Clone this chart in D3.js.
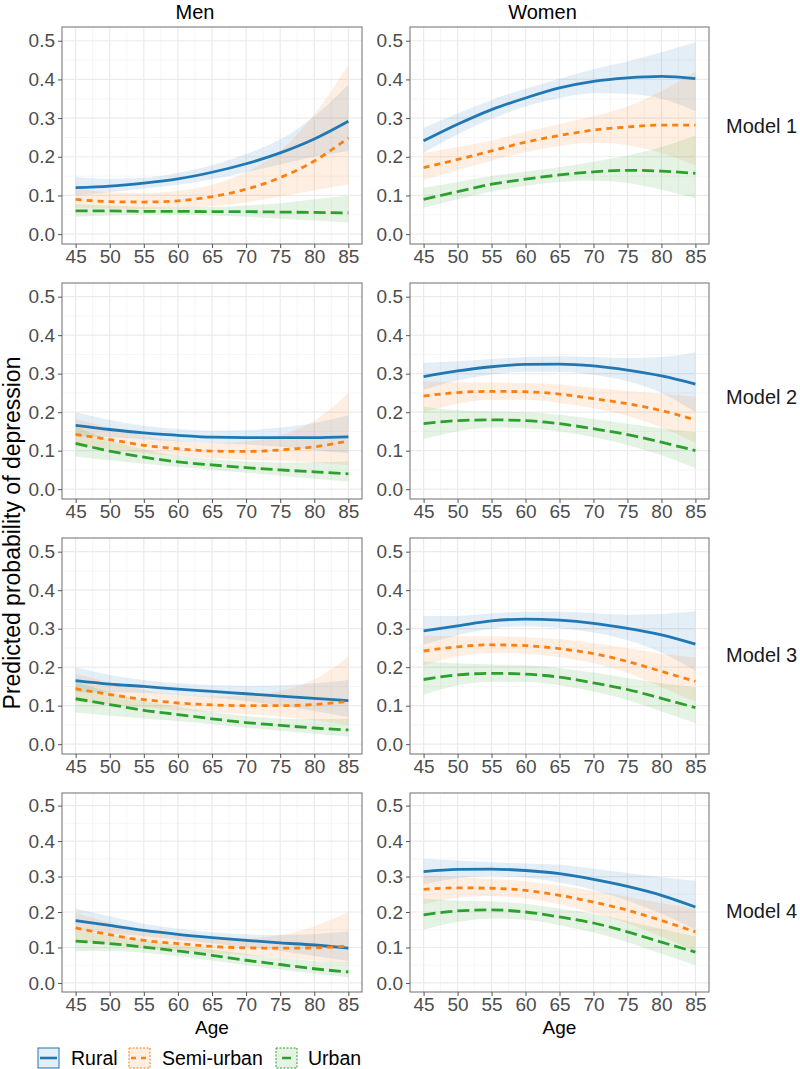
<!DOCTYPE html>
<html>
<head>
<meta charset="utf-8">
<script src="https://cdn.jsdelivr.net/npm/d3@7/dist/d3.min.js"></script>
<style>
  html, body { margin: 0; padding: 0; background: #fff; }
  text { font-family: "Liberation Sans", Arial, sans-serif; }
</style>
</head>
<body>
<svg id="chart" width="800" height="1069"></svg>
<script>
// ---------------- DATA ----------------
const ages = [45, 50, 55, 60, 65, 70, 75, 80, 85];
const sexes = ["Men", "Women"];
const models = ["Model 1", "Model 2", "Model 3", "Model 4"];
const areas = ["Rural", "Semi-urban", "Urban"];
const xTicks = [45, 50, 55, 60, 65, 70, 75, 80, 85];
const yTicks = [0.0, 0.1, 0.2, 0.3, 0.4, 0.5];
const yTickLabels = ["0.0", "0.1", "0.2", "0.3", "0.4", "0.5"];

// Each array: [Rural, Semi-urban, Urban], values at ages 45..85
const fitMen1 = [
  [0.120,0.124,0.132,0.143,0.160,0.182,0.210,0.246,0.292],
  [0.090,0.084,0.083,0.086,0.097,0.116,0.146,0.189,0.249],
  [0.060,0.060,0.059,0.059,0.058,0.058,0.057,0.056,0.055]];
const loMen1 = [
  [0.100,0.108,0.118,0.128,0.142,0.160,0.180,0.200,0.215],
  [0.068,0.066,0.065,0.066,0.072,0.082,0.097,0.113,0.129],
  [0.045,0.048,0.050,0.050,0.048,0.045,0.040,0.035,0.030]];
const hiMen1 = [
  [0.148,0.143,0.146,0.158,0.178,0.207,0.245,0.305,0.387],
  [0.118,0.108,0.106,0.112,0.128,0.160,0.215,0.310,0.438],
  [0.078,0.074,0.070,0.069,0.070,0.074,0.080,0.090,0.100]];

const fitWomen1 = [
  [0.241,0.284,0.322,0.352,0.378,0.395,0.404,0.408,0.402],
  [0.172,0.193,0.215,0.238,0.255,0.269,0.277,0.282,0.282],
  [0.090,0.110,0.129,0.142,0.153,0.161,0.165,0.163,0.157]];
const loWomen1 = [
  [0.210,0.258,0.298,0.330,0.352,0.364,0.363,0.350,0.318],
  [0.140,0.165,0.190,0.212,0.228,0.236,0.230,0.210,0.178],
  [0.068,0.090,0.110,0.125,0.135,0.138,0.132,0.115,0.093]];
const hiWomen1 = [
  [0.275,0.312,0.347,0.376,0.402,0.426,0.446,0.470,0.496],
  [0.210,0.225,0.242,0.265,0.285,0.305,0.330,0.370,0.420],
  [0.120,0.135,0.150,0.162,0.173,0.187,0.203,0.225,0.255]];

const fitMen2 = [
  [0.166,0.155,0.146,0.140,0.135,0.134,0.134,0.134,0.136],
  [0.142,0.129,0.114,0.105,0.099,0.098,0.102,0.110,0.125],
  [0.119,0.099,0.083,0.071,0.063,0.056,0.050,0.045,0.040]];
const loMen2 = [
  [0.138,0.135,0.130,0.124,0.120,0.116,0.110,0.102,0.093],
  [0.110,0.104,0.094,0.086,0.080,0.076,0.074,0.069,0.062],
  [0.085,0.075,0.066,0.058,0.050,0.043,0.035,0.027,0.020]];
const hiMen2 = [
  [0.200,0.180,0.165,0.156,0.152,0.153,0.160,0.172,0.192],
  [0.182,0.160,0.138,0.126,0.120,0.124,0.140,0.178,0.250],
  [0.163,0.128,0.104,0.087,0.078,0.072,0.069,0.070,0.072]];

const fitWomen2 = [
  [0.292,0.307,0.318,0.324,0.325,0.320,0.309,0.294,0.273],
  [0.242,0.251,0.254,0.253,0.247,0.235,0.222,0.204,0.180],
  [0.170,0.178,0.180,0.178,0.170,0.157,0.142,0.122,0.100]];
const loWomen2 = [
  [0.258,0.282,0.298,0.305,0.305,0.297,0.280,0.250,0.200],
  [0.200,0.222,0.232,0.232,0.224,0.210,0.190,0.160,0.120],
  [0.130,0.150,0.160,0.158,0.150,0.135,0.115,0.088,0.055]];
const hiWomen2 = [
  [0.328,0.332,0.338,0.343,0.345,0.343,0.340,0.343,0.355],
  [0.280,0.278,0.277,0.276,0.272,0.263,0.255,0.248,0.240],
  [0.215,0.205,0.202,0.200,0.193,0.182,0.170,0.158,0.148]];

const fitMen3 = [
  [0.165,0.156,0.150,0.143,0.137,0.131,0.125,0.119,0.113],
  [0.144,0.129,0.116,0.107,0.102,0.100,0.100,0.103,0.111],
  [0.118,0.103,0.088,0.077,0.066,0.056,0.049,0.042,0.037]];
const loMen3 = [
  [0.135,0.135,0.133,0.128,0.121,0.112,0.100,0.086,0.070],
  [0.110,0.103,0.095,0.088,0.083,0.078,0.072,0.062,0.050],
  [0.082,0.074,0.067,0.060,0.052,0.043,0.035,0.027,0.020]];
const hiMen3 = [
  [0.200,0.180,0.167,0.158,0.154,0.152,0.153,0.158,0.167],
  [0.183,0.160,0.141,0.129,0.124,0.126,0.138,0.168,0.228],
  [0.163,0.135,0.113,0.097,0.083,0.073,0.067,0.065,0.066]];

const fitWomen3 = [
  [0.294,0.307,0.320,0.325,0.322,0.314,0.301,0.284,0.260],
  [0.242,0.253,0.258,0.256,0.248,0.235,0.215,0.189,0.163],
  [0.168,0.180,0.184,0.182,0.174,0.159,0.142,0.119,0.095]];
const loWomen3 = [
  [0.258,0.283,0.300,0.306,0.302,0.290,0.270,0.238,0.190],
  [0.205,0.228,0.237,0.235,0.226,0.210,0.185,0.148,0.110],
  [0.128,0.153,0.162,0.162,0.153,0.137,0.115,0.085,0.055]];
const hiWomen3 = [
  [0.333,0.333,0.340,0.344,0.344,0.340,0.336,0.338,0.345],
  [0.282,0.280,0.280,0.278,0.273,0.263,0.250,0.235,0.225],
  [0.215,0.210,0.207,0.205,0.198,0.186,0.172,0.158,0.148]];

const fitMen4 = [
  [0.176,0.162,0.148,0.137,0.128,0.120,0.113,0.107,0.098],
  [0.155,0.136,0.120,0.111,0.103,0.099,0.098,0.099,0.104],
  [0.118,0.111,0.101,0.090,0.078,0.064,0.052,0.040,0.031]];
const loMen4 = [
  [0.148,0.140,0.132,0.122,0.112,0.101,0.090,0.076,0.062],
  [0.120,0.108,0.098,0.091,0.084,0.078,0.071,0.063,0.055],
  [0.090,0.090,0.085,0.075,0.063,0.050,0.038,0.026,0.016]];
const hiMen4 = [
  [0.210,0.188,0.167,0.153,0.143,0.137,0.135,0.138,0.145],
  [0.198,0.170,0.147,0.135,0.126,0.125,0.135,0.160,0.200],
  [0.148,0.135,0.120,0.107,0.094,0.082,0.070,0.062,0.058]];

const fitWomen4 = [
  [0.314,0.320,0.321,0.317,0.308,0.292,0.272,0.247,0.214],
  [0.264,0.268,0.267,0.261,0.247,0.228,0.205,0.176,0.144],
  [0.192,0.203,0.206,0.200,0.186,0.169,0.144,0.115,0.087]];
const loWomen4 = [
  [0.278,0.295,0.302,0.297,0.283,0.262,0.232,0.195,0.150],
  [0.222,0.240,0.245,0.238,0.222,0.198,0.168,0.130,0.090],
  [0.150,0.172,0.182,0.178,0.163,0.142,0.115,0.082,0.050]];
const hiWomen4 = [
  [0.350,0.345,0.340,0.337,0.333,0.322,0.310,0.298,0.288],
  [0.303,0.298,0.293,0.287,0.275,0.260,0.243,0.225,0.210],
  [0.238,0.232,0.230,0.223,0.210,0.195,0.175,0.152,0.132]];

// ---------------- STYLE / LAYOUT ----------------
const colors = ["#1F77B4", "#FF7F0E", "#2CA02C"];
const dashes = [null, "6,5", "12,5"];
const colX = [[62, 362], [410, 709]];
const rowY = [[27, 244], [283, 499], [538, 754], [793, 992]];
const stripBaselines = [133, 404, 662, 918];

const panelData = [
  [[fitMen1, loMen1, hiMen1], [fitWomen1, loWomen1, hiWomen1]],
  [[fitMen2, loMen2, hiMen2], [fitWomen2, loWomen2, hiWomen2]],
  [[fitMen3, loMen3, hiMen3], [fitWomen3, loWomen3, hiWomen3]],
  [[fitMen4, loMen4, hiMen4], [fitWomen4, loWomen4, hiWomen4]]
];

const svg = d3.select("#chart");
const xDomain = [43, 87];
const yDomain = [-0.0255, 0.5355];
const xMinor = [47.5, 52.5, 57.5, 62.5, 67.5, 72.5, 77.5, 82.5];
const yMinor = [0.05, 0.15, 0.25, 0.35, 0.45];
const FONT = "'Liberation Sans', Arial, sans-serif";

panelData.forEach((row, ri) => {
  row.forEach((pd, ci) => {
    const x = d3.scaleLinear().domain(xDomain).range(colX[ci]);
    const y = d3.scaleLinear().domain(yDomain).range([rowY[ri][1], rowY[ri][0]]);
    const g = svg.append("g");
    const [x0, x1] = colX[ci];
    const [y0, y1] = rowY[ri];

    g.append("rect").attr("x", x0).attr("y", y0).attr("width", x1 - x0).attr("height", y1 - y0)
      .attr("fill", "#fff");

    // minor grid
    xMinor.forEach(v => g.append("line").attr("x1", x(v)).attr("x2", x(v)).attr("y1", y0).attr("y2", y1)
      .attr("stroke", "#F2F2F2").attr("stroke-width", 0.7));
    yMinor.forEach(v => g.append("line").attr("y1", y(v)).attr("y2", y(v)).attr("x1", x0).attr("x2", x1)
      .attr("stroke", "#F2F2F2").attr("stroke-width", 0.7));
    // major grid
    xTicks.forEach(v => g.append("line").attr("x1", x(v)).attr("x2", x(v)).attr("y1", y0).attr("y2", y1)
      .attr("stroke", "#EBEBEB").attr("stroke-width", 1.2));
    yTicks.forEach(v => g.append("line").attr("y1", y(v)).attr("y2", y(v)).attr("x1", x0).attr("x2", x1)
      .attr("stroke", "#EBEBEB").attr("stroke-width", 1.2));

    const [fits, los, his] = pd;
    // ribbons
    areas.forEach((a, k) => {
      const pts = ages.map((age, i) => ({ age, lo: los[k][i], hi: his[k][i] }));
      const area = d3.area().curve(d3.curveMonotoneX)
        .x(d => x(d.age)).y0(d => y(d.lo)).y1(d => y(d.hi));
      g.append("path").attr("d", area(pts)).attr("fill", colors[k]).attr("fill-opacity", 0.12);
    });
    // lines
    areas.forEach((a, k) => {
      const pts = ages.map((age, i) => ({ age, v: fits[k][i] }));
      const line = d3.line().curve(d3.curveMonotoneX).x(d => x(d.age)).y(d => y(d.v));
      g.append("path").attr("d", line(pts)).attr("fill", "none")
        .attr("stroke", colors[k]).attr("stroke-width", 2.8)
        .attr("stroke-dasharray", dashes[k]);
    });

    // border
    g.append("rect").attr("x", x0).attr("y", y0).attr("width", x1 - x0).attr("height", y1 - y0)
      .attr("fill", "none").attr("stroke", "#6E6E6E").attr("stroke-width", 1);

    // axes
    const xAxis = d3.axisBottom(x).tickValues(xTicks).tickSize(4).tickPadding(2).tickFormat(d3.format("d"));
    const gx = g.append("g").attr("transform", `translate(0,${y1})`).call(xAxis);
    gx.select(".domain").remove();
    gx.selectAll(".tick line").attr("stroke", "#555");
    gx.selectAll(".tick text").attr("fill", "#4D4D4D").style("font-size", "19px").style("font-family", FONT);

    const yAxis = d3.axisLeft(y).tickValues(yTicks).tickSize(4).tickPadding(3)
      .tickFormat((d, i) => yTickLabels[i]);
    const gy = g.append("g").attr("transform", `translate(${x0},0)`).call(yAxis);
    gy.select(".domain").remove();
    gy.selectAll(".tick line").attr("stroke", "#555");
    gy.selectAll(".tick text").attr("fill", "#4D4D4D").style("font-size", "19px").style("font-family", FONT);
  });

  // row strip label
  svg.append("text").attr("x", 726).attr("y", stripBaselines[ri])
    .attr("fill", "#1A1A1A").style("font-size", "20px").text(models[ri]);
});

// column titles
const titleX = [195, 542.5];
sexes.forEach((s, ci) => {
  svg.append("text").attr("x", titleX[ci]).attr("y", 19).attr("text-anchor", "middle")
    .attr("fill", "#000").style("font-size", "20px").text(s);
});

// x axis titles
colX.forEach(([a, b]) => {
  svg.append("text").attr("x", (a + b) / 2).attr("y", 1034).attr("text-anchor", "middle")
    .attr("fill", "#000").style("font-size", "19px").text("Age");
});

// y axis title
svg.append("text").attr("transform", "translate(20,533) rotate(-90)")
  .attr("text-anchor", "middle").attr("fill", "#000").style("font-size", "23px")
  .text("Predicted probability of depression");

// legend
const legendKeyX = [38, 129, 276];
const legendTextX = [71, 162, 308];
areas.forEach((a, k) => {
  const kx = legendKeyX[k], ky = 1048;
  svg.append("rect").attr("x", kx).attr("y", ky).attr("width", 21).attr("height", 20)
    .attr("fill", colors[k]).attr("fill-opacity", 0.12)
    .attr("stroke", colors[k]).attr("stroke-width", 1).attr("stroke-dasharray", k === 0 ? null : "2,1.5");
  svg.append("line").attr("x1", kx + 2).attr("x2", kx + 19).attr("y1", ky + 10).attr("y2", ky + 10)
    .attr("stroke", colors[k]).attr("stroke-width", 2.6)
    .attr("stroke-dasharray", k === 0 ? null : (k === 1 ? "5,5" : "0,4,9,8"));
  svg.append("text").attr("x", legendTextX[k]).attr("y", 1065).attr("fill", "#000")
    .style("font-size", "19.5px").text(a);
});
</script>
</body>
</html>
